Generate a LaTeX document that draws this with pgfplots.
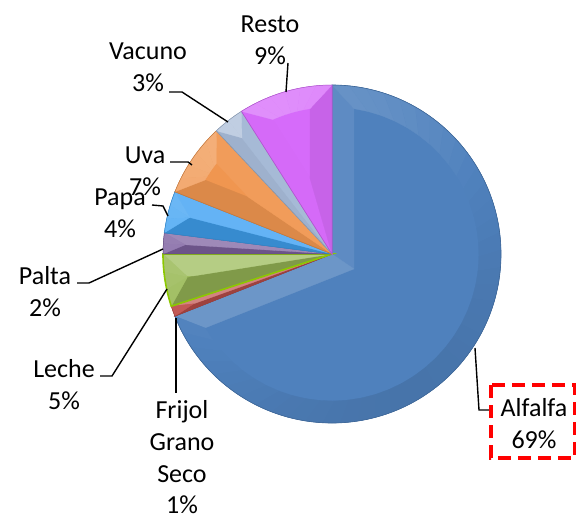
\documentclass[border=0pt]{standalone}
\usepackage{pgfplots}
\pgfplotsset{compat=1.18}
\usepackage{fontspec}
\setmainfont{Carlito}

\definecolor{cAlf}{RGB}{79,129,189}
\definecolor{cFri}{RGB}{192,80,77}
\definecolor{cLec}{RGB}{155,187,89}
\definecolor{cPal}{RGB}{128,100,162}
\definecolor{cPap}{RGB}{64,162,242}
\definecolor{cUva}{RGB}{240,150,80}
\definecolor{cVac}{RGB}{165,185,214}
\definecolor{cRes}{RGB}{214,107,250}
\definecolor{cLime}{RGB}{140,200,0}

\def\pcX{332}\def\pcY{264}\def\pcR{169}\def\pcw{22}
\def\pcs{1}

\newcommand{\facetcolor}[2]{%
  \pgfmathsetmacro\fcf{\pcs*cos(#2-120)}%
  \pgfmathsetmacro\fclp{100-max(\fcf,0)*30}%
  \pgfmathsetmacro\fcd{100-max(-\fcf,0)*18}%
  \colorlet{fc}{#1!\fclp!white}%
  \colorlet{fc}{fc!\fcd!black}%
}

% #1 cumulative start (%), #2 value (%), #3 colour, #4 outline colour, #5 outline width, #6 shading strength
\newcommand{\pieslice}[6]{%
  \def\pcs{#6}%
  \pgfmathsetmacro\pcsa{90-3.6*#1}%
  \pgfmathsetmacro\pcea{90-3.6*(#1+#2)}%
  \pgfmathsetmacro\pcma{(\pcsa+\pcea)/2}%
  \pgfmathsetmacro\pcha{(\pcsa-\pcea)/2}%
  \pgfmathsetmacro\pcrin{\pcR-\pcw}%
  \pgfmathsetmacro\pcd{\pcw/sin(\pcha)}%
  \ifdim\pcd pt<\pcrin pt
    \pgfmathsetmacro\pcdl{asin(\pcw/\pcrin)}%
    \let\pcpr\pcd
  \else
    \let\pcdl\pcha
    \let\pcpr\pcrin
  \fi
  \pgfmathsetmacro\pcia{\pcsa-\pcdl}%
  \pgfmathsetmacro\pcib{\pcea+\pcdl}%
  \fill[#3] (axis cs:\pcX,\pcY) -- (axis cs:{\pcX+\pcR*cos(\pcsa)},{\pcY+\pcR*sin(\pcsa)})
     arc[start angle=\pcsa, end angle=\pcea, radius=\pcR bp] -- cycle;
  \facetcolor{#3}{\pcsa+90}%
  \filldraw[fc, line width=0.3bp] (axis cs:\pcX,\pcY) -- (axis cs:{\pcX+\pcR*cos(\pcsa)},{\pcY+\pcR*sin(\pcsa)})
     -- (axis cs:{\pcX+\pcrin*cos(\pcia)},{\pcY+\pcrin*sin(\pcia)})
     -- (axis cs:{\pcX+\pcpr*cos(\pcma)},{\pcY+\pcpr*sin(\pcma)}) -- cycle;
  \facetcolor{#3}{\pcea-90}%
  \filldraw[fc, line width=0.3bp] (axis cs:\pcX,\pcY) -- (axis cs:{\pcX+\pcR*cos(\pcea)},{\pcY+\pcR*sin(\pcea)})
     -- (axis cs:{\pcX+\pcrin*cos(\pcib)},{\pcY+\pcrin*sin(\pcib)})
     -- (axis cs:{\pcX+\pcpr*cos(\pcma)},{\pcY+\pcpr*sin(\pcma)}) -- cycle;
  \pgfmathtruncatemacro\pcn{max(1,ceil((\pcsa-\pcea)/6))}%
  \foreach \k in {1,...,\pcn}{%
    \pgfmathsetmacro\ta{\pcsa-(\pcsa-\pcea)*(\k-1)/\pcn}%
    \pgfmathsetmacro\tb{\pcsa-(\pcsa-\pcea)*\k/\pcn}%
    \pgfmathsetmacro\ua{\pcia-(\pcia-\pcib)*(\k-1)/\pcn}%
    \pgfmathsetmacro\ub{\pcia-(\pcia-\pcib)*\k/\pcn}%
    \facetcolor{#3}{(\ta+\tb)/2}%
    \filldraw[fc, line width=0.3bp] (axis cs:{\pcX+\pcR*cos(\ta)},{\pcY+\pcR*sin(\ta)})
       arc[start angle=\ta, end angle=\tb, radius=\pcR bp]
       -- (axis cs:{\pcX+\pcrin*cos(\ub)},{\pcY+\pcrin*sin(\ub)})
       -- (axis cs:{\pcX+\pcrin*cos(\ua)},{\pcY+\pcrin*sin(\ua)}) -- cycle;
  }%
  \draw[#4, line width=#5, line join=miter] (axis cs:\pcX,\pcY) -- (axis cs:{\pcX+\pcR*cos(\pcsa)},{\pcY+\pcR*sin(\pcsa)})
     arc[start angle=\pcsa, end angle=\pcea, radius=\pcR bp] -- cycle;
}

\newcommand{\lblfont}{\fontsize{26bp}{32bp}\selectfont}
\newcommand{\lbl}[3]{\node[anchor=base, inner sep=0pt, font=\lblfont] at (axis cs:#1,#2) {#3};}

\begin{document}
\begin{tikzpicture}
\useasboundingbox (0,0) rectangle (576bp,518bp);
\begin{axis}[hide axis, x=1bp, y=1bp, xmin=0, xmax=576, ymin=0, ymax=518,
  scale only axis, clip=false, anchor=origin, at={(0,0)}]
\pgfplotsextra{%
  % cumulative start, value
  \pieslice{0}{69}{cAlf}{cAlf!80!black}{0.6bp}{0.55}
  \pieslice{69}{1}{cFri}{cFri!80!black}{0.5bp}{1}
  \pieslice{70}{5}{cLec}{cLime}{1.6bp}{1}
  \pieslice{75}{2}{cPal}{cPal!80!black}{0.5bp}{1}
  \pieslice{77}{4}{cPap}{cPap!80!black}{0.5bp}{1}
  \pieslice{81}{7}{cUva}{cUva!80!black}{0.5bp}{0.8}
  \pieslice{88}{3}{cVac}{cVac!80!black}{0.5bp}{1}
  \pieslice{91}{9}{cRes}{cRes!80!black}{0.5bp}{0.8}
}
% leader lines
\draw[black, line width=1.4bp] (axis cs:288,455) -- (axis cs:286,426);
\draw[black, line width=1.4bp] (axis cs:169,426) -- (axis cs:182,426) -- (axis cs:228,396);
\draw[black, line width=1.4bp] (axis cs:170,356) -- (axis cs:188,356) -- (axis cs:192,353);
\draw[black, line width=1.4bp] (axis cs:152,313) -- (axis cs:163,312) -- (axis cs:168,302);
\draw[black, line width=1.4bp] (axis cs:77,235) -- (axis cs:89,235) -- (axis cs:163,269);
\draw[black, line width=1.4bp] (axis cs:100,142) -- (axis cs:112,142) -- (axis cs:167,229);
\draw[black, line width=1.4bp] (axis cs:176,125) -- (axis cs:176,200);
\draw[black, line width=1.4bp] (axis cs:475,170) -- (axis cs:479,108) -- (axis cs:490,108);
% labels
\lbl{270}{485}{Resto}\lbl{270}{453}{9\%}
\lbl{148}{458}{Vacuno}\lbl{148}{426}{3\%}
\lbl{145}{355}{Uva}\lbl{145}{323}{7\%}
\lbl{120}{313}{Papa}\lbl{120}{281}{4\%}
\lbl{45}{234}{Palta}\lbl{45}{202}{2\%}
\lbl{64}{141}{Leche}\lbl{64}{109}{5\%}
\lbl{182}{100}{Frijol}\lbl{182}{68}{Grano}\lbl{182}{36}{Seco}\lbl{182}{5}{1\%}
\lbl{534}{102}{Alfalfa}\lbl{534}{70}{69\%}
\draw[red, line width=3.5bp, dash pattern=on 13bp off 7bp] (axis cs:491,133) rectangle (axis cs:575,60);
\end{axis}
\end{tikzpicture}
\end{document}
